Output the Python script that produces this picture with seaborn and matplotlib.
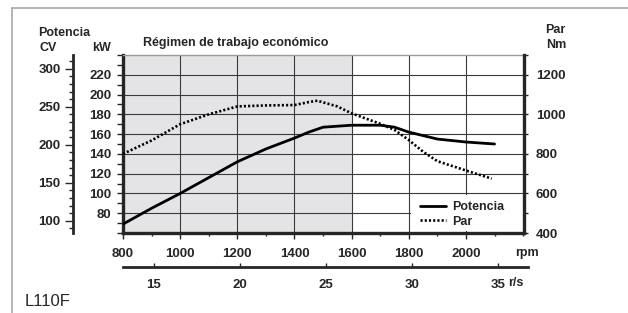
import matplotlib
matplotlib.use("Agg")
import matplotlib.pyplot as plt
import seaborn as sns
import pandas as pd
from matplotlib.lines import Line2D
from matplotlib.patches import Rectangle
from matplotlib.ticker import MultipleLocator, FixedLocator

rpm_potencia = [800, 900, 1000, 1100, 1200, 1300, 1400, 1450, 1500, 1600, 1700, 1750, 1800, 1900, 2000, 2100]
potencia_kw = [69, 85, 100, 116, 132, 145, 156, 162, 167, 169, 169, 167, 162, 155, 152, 150]
rpm_par = [800, 900, 1000, 1100, 1200, 1300, 1400, 1450, 1480, 1550, 1600, 1700, 1750, 1800, 1850, 1900, 2000, 2090]
par_nm = [800, 868, 950, 1000, 1040, 1045, 1047, 1062, 1069, 1040, 1005, 952, 921, 870, 811, 763, 716, 675]

rpm_ticks = [800, 1000, 1200, 1400, 1600, 1800, 2000]
kw_ticks = [80, 100, 120, 140, 160, 180, 200, 220]
nm_ticks = [400, 600, 800, 1000, 1200]
cv_ticks = [100, 150, 200, 250, 300]
rs_ticks = [15, 20, 25, 30, 35]
zona_economica = (800, 1600)

df_pot = pd.DataFrame({"rpm": rpm_potencia, "kW": potencia_kw})
df_par = pd.DataFrame({"rpm": rpm_par, "Nm": par_nm})

sns.set_style("ticks")
plt.rcParams["font.family"] = ["Liberation Sans", "DejaVu Sans"]
plt.rcParams["font.size"] = 9

W, H = 628, 313
TS = 9.5  # tamano de las etiquetas de los ejes
fig = plt.figure(figsize=(W / 100, H / 100), dpi=100)


def px(x, y):
    return x / W, 1 - y / H


# ejes principales (kW)
ax = fig.add_axes([123 / W, (H - 233) / H, (524 - 123) / W, (233 - 55) / H])
ax.set_xlim(800, 2203)
ax.set_ylim(60, 240)
ax.axvspan(*zona_economica, color="#e4e4e6", lw=0, zorder=0)
sns.lineplot(data=df_pot, x="rpm", y="kW", ax=ax, color="black", lw=2, legend=False, zorder=3)

ax.xaxis.set_major_locator(FixedLocator(rpm_ticks))
ax.xaxis.set_minor_locator(MultipleLocator(100))
ax.yaxis.set_major_locator(FixedLocator(kw_ticks))
ax.yaxis.set_minor_locator(MultipleLocator(10))
ax.grid(which="major", color="#3a3a3a", lw=0.8)
ax.set_axisbelow(True)
ax.set_xlabel("")
ax.set_ylabel("")
ax.tick_params(axis="x", which="major", length=4, width=1, pad=7, labelsize=TS)
ax.tick_params(axis="x", which="minor", length=2.5, width=1)
ax.tick_params(axis="y", which="major", length=4.5, width=1, pad=4, labelsize=TS)
ax.tick_params(axis="y", which="minor", length=4.5, width=1)
for lab in ax.get_xticklabels() + ax.get_yticklabels():
    lab.set_fontweight("bold")
ax.spines["left"].set_linewidth(2.4)
ax.spines["bottom"].set_linewidth(2.4)
ax.spines["right"].set_visible(False)
ax.spines["top"].set_color("#9a9a9a")
ax.spines["top"].set_linewidth(1)

# eje derecho (Nm)
ax2 = ax.twinx()
ax2.set_ylim(400, 1300)
sns.lineplot(data=df_par, x="rpm", y="Nm", ax=ax2, color="black", lw=1.9,
             linestyle=(0, (0.8, 0.8)), legend=False, zorder=3)
ax2.lines[-1].set_dash_capstyle("butt")
ax2.yaxis.set_major_locator(FixedLocator(nm_ticks))
ax2.yaxis.set_minor_locator(MultipleLocator(100))
ax2.tick_params(axis="y", which="both", length=3, width=1, pad=5.5, labelsize=TS)
for lab in ax2.get_yticklabels():
    lab.set_fontweight("bold")
ax2.set_ylabel("")
for s in ["left", "top", "bottom"]:
    ax2.spines[s].set_visible(False)
ax2.spines["right"].set_linewidth(2.4)
ax2.add_patch(Rectangle((0.718, 0.012), 0.28, 0.2, transform=ax2.transAxes,
                        facecolor="white", edgecolor="none", zorder=1))

handles = [Line2D([], [], color="black", lw=2),
           Line2D([], [], color="black", lw=1.9, linestyle=(0, (0.8, 0.8)), dash_capstyle="butt")]
leg = ax2.legend(handles, ["Potencia", "Par"], loc="upper left",
                 bbox_to_anchor=((420 - 123) / 401, (233 - 201) / 178),
                 frameon=False, borderpad=0, borderaxespad=0, handlelength=2.1,
                 handletextpad=0.5, labelspacing=0.22, prop={"weight": "bold", "size": 9})

# eje CV a la izquierda
ax_cv = ax.twinx()
ax_cv.set_ylim(84, 318)
ax_cv.patch.set_visible(False)
ax_cv.yaxis.tick_left()
ax_cv.yaxis.set_major_locator(FixedLocator(cv_ticks))
ax_cv.yaxis.set_minor_locator(MultipleLocator(10))
for s in ["right", "top", "bottom"]:
    ax_cv.spines[s].set_visible(False)
ax_cv.spines["left"].set_visible(True)
ax_cv.spines["left"].set_position(("outward", 36))
ax_cv.spines["left"].set_linewidth(2)
ax_cv.tick_params(axis="y", which="major", length=5.5, width=1, pad=3.5, labelsize=TS)
ax_cv.tick_params(axis="y", which="minor", length=3, width=1)
for lab in ax_cv.get_yticklabels():
    lab.set_fontweight("bold")

# eje r/s
ax_rs = fig.add_axes([123 / W, (H - 266.7) / H, (528 - 123) / W, 0.0001])
ax_rs.set_xlim(13.2, 36.74)
ax_rs.patch.set_visible(False)
for s in ["left", "right", "top"]:
    ax_rs.spines[s].set_visible(False)
ax_rs.spines["bottom"].set_linewidth(2)
ax_rs.set_yticks([])
ax_rs.xaxis.set_major_locator(FixedLocator(rs_ticks))
ax_rs.tick_params(axis="x", direction="in", length=3, width=1, pad=8.5, labelsize=TS)
for lab in ax_rs.get_xticklabels():
    lab.set_fontweight("bold")

# textos
bold = dict(fontsize=9, fontweight="bold", va="center", ha="left")
fig.text(*px(38, 33), "Potencia", **bold)
fig.text(*px(39, 48), "CV", **bold)
fig.text(*px(92, 48), "kW", **bold)
fig.text(*px(545, 30), "Par", **bold)
fig.text(*px(546, 45), "Nm", **bold)
fig.text(*px(143, 43), "Régimen de trabajo económico", **bold)
fig.text(*px(515, 253), "rpm", **bold)
fig.text(*px(508, 283), "r/s", **bold)
fig.text(*px(25, 301), "L110F", fontsize=12, va="center", ha="left")

# marco
fig.add_artist(Line2D([12 / W, 12 / W], [0, 1 - 8 / H], transform=fig.transFigure, color="#a8a8a8", lw=1.2))
fig.add_artist(Line2D([12 / W, 1], [1 - 8 / H, 1 - 8 / H], transform=fig.transFigure, color="#a8a8a8", lw=1.2))

fig.savefig("out.png", dpi=100)
